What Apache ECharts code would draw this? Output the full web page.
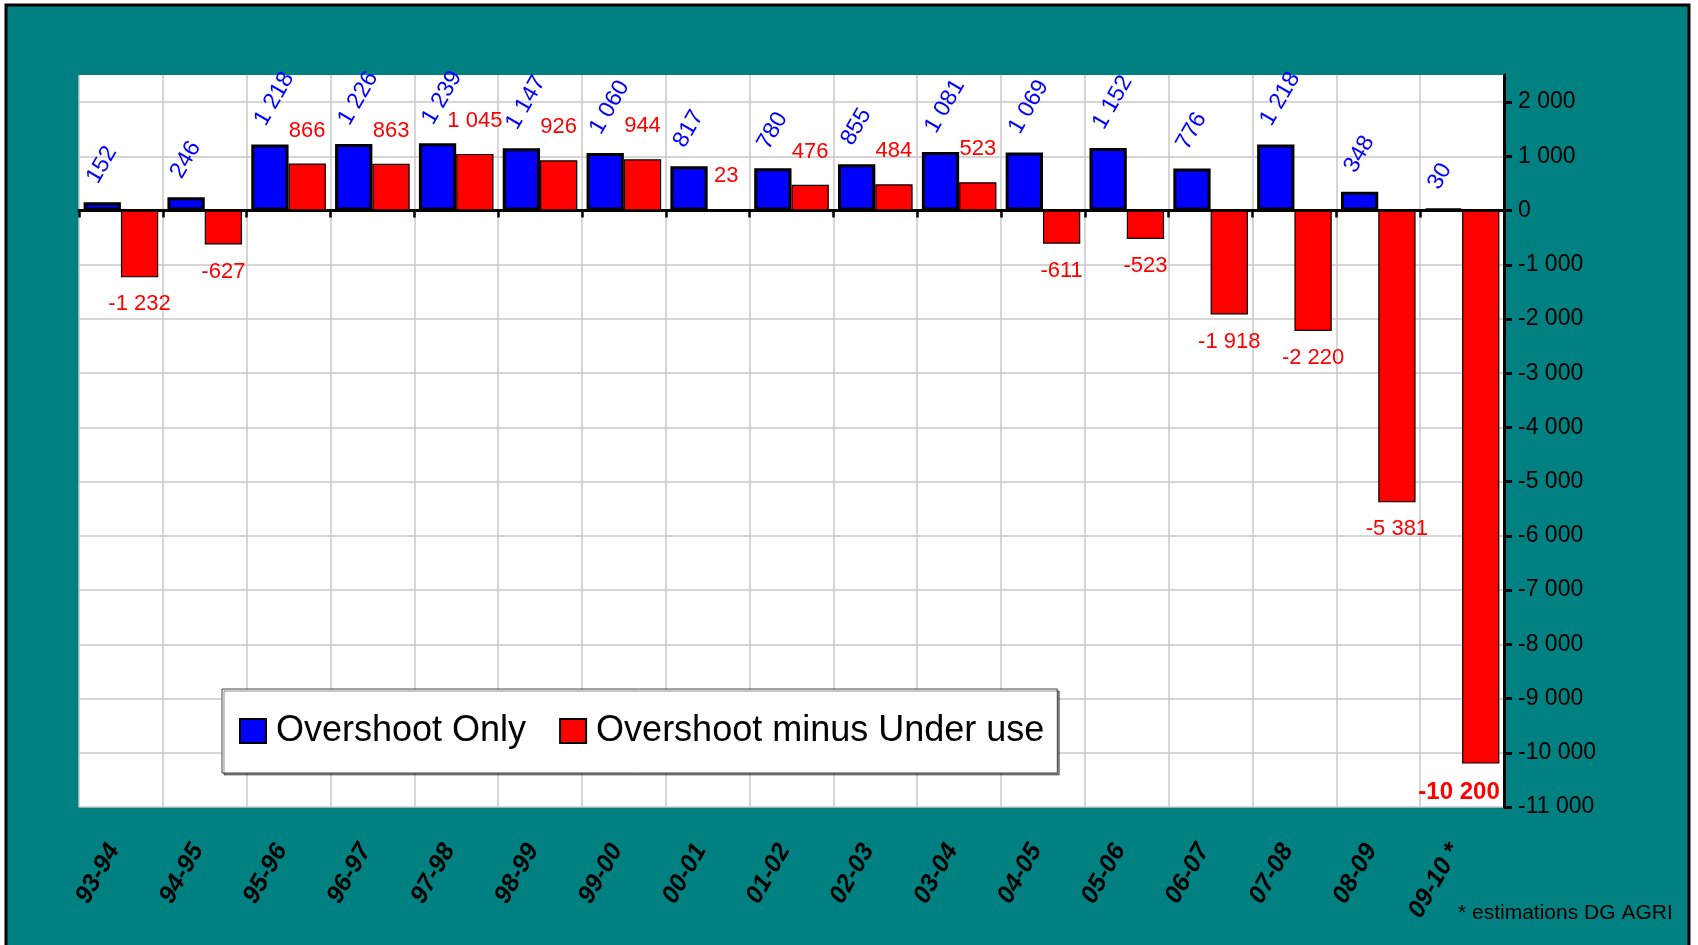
<!DOCTYPE html>
<html><head><meta charset="utf-8">
<script src="https://cdn.jsdelivr.net/npm/echarts@6/dist/echarts.min.js"></script>
<style>html,body{margin:0;padding:0;background:#fff}#c{width:1698px;height:945px}</style>
</head><body><div id="c"></div>
<script>
const categories = ['93-94','94-95','95-96','96-97','97-98','98-99','99-00','00-01','01-02','02-03','03-04','04-05','05-06','06-07','07-08','08-09','09-10 *'];
const overshootOnly = [152, 246, 1218, 1226, 1239, 1147, 1060, 817, 780, 855, 1081, 1069, 1152, 776, 1218, 348, 30];
const overshootMinusUnderUse = [-1232, -627, 866, 863, 1045, 926, 944, 23, 476, 484, 523, -611, -523, -1918, -2220, -5381, -10200];
const yTickValues = [-11000,-10000,-9000,-8000,-7000,-6000,-5000,-4000,-3000,-2000,-1000,0,1000,2000];
const seriesNames = ['Overshoot Only', 'Overshoot minus Under use'];
const footnote = '* estimations DG AGRI';

const FONT = "'Liberation Sans', Arial, sans-serif";
function fmt(v) {
  const s = Math.abs(v).toString().replace(/\B(?=(\d{3})+(?!\d))/g, ' ');
  return (v < 0 ? '-' : '') + s;
}
const lastIdx = overshootMinusUnderUse.length - 1;
const redData = overshootMinusUnderUse.map((v, i) => {
  let label;
  if (i === lastIdx) {
    label = { position: 'bottom', distance: 17, align: 'right', offset: [19, 0], fontWeight: 'bold', fontSize: 24 };
  } else if (v < 0) {
    label = { position: 'bottom', distance: 16 };
  } else {
    label = { position: 'top', distance: 22 };
  }
  return { value: v, label: label };
});

const chart = echarts.init(document.getElementById('c'));
chart.setOption({
  backgroundColor: '#ffffff',
  animation: false,
  textStyle: { fontFamily: FONT },
  graphic: [
    { type: 'rect', z: -100, shape: { x: 6, y: 5, width: 1683, height: 1000 },
      style: { fill: '#008080', stroke: '#000000', lineWidth: 3 } },
    { type: 'text', z: 100, left: 1458, top: 903,
      style: { text: footnote, fill: '#000000', font: "21px 'Liberation Sans', Arial, sans-serif" } }
  ],
  grid: { left: 79, top: 75, right: 194, bottom: 138, show: true, backgroundColor: '#ffffff', borderWidth: 0 },
  legend: {
    left: 222, top: 689,
    data: seriesNames,
    orient: 'horizontal',
    backgroundColor: '#ffffff',
    borderColor: '#444444', borderWidth: 1,
    shadowColor: 'rgba(0,0,0,0.45)', shadowOffsetX: 2, shadowOffsetY: 2, shadowBlur: 0,
    padding: [22, 13, 22, 17],
    itemGap: 33, itemWidth: 26, itemHeight: 24,
    icon: 'rect',
    itemStyle: { borderColor: '#000000', borderWidth: 2 },
    textStyle: { fontSize: 36, color: '#000000', fontFamily: FONT, lineHeight: 40, padding: [0, 0, 0, 5] }
  },
  xAxis: [
    {
      type: 'category', data: categories, position: 'bottom',
      axisLine: { show: false, onZero: false }, axisTick: { show: false },
      axisLabel: { rotate: 60, margin: 27, padding: [0, 14, 16, 0], fontSize: 25, fontWeight: 'bold', fontStyle: 'italic', color: '#000000', fontFamily: FONT, interval: 0 },
      splitLine: { show: true, lineStyle: { color: '#c8c8c8', width: 1.5 } }
    },
    {
      type: 'category', data: categories, position: 'bottom',
      axisLine: { show: true, onZero: true, lineStyle: { color: '#000000', width: 3 } },
      axisTick: { show: true, length: 7, lineStyle: { color: '#000000', width: 2.5 } },
      axisLabel: { show: false }, splitLine: { show: false }
    }
  ],
  yAxis: {
    type: 'value', position: 'right', min: -11000, max: 2500, interval: 1000,
    axisLine: { show: true, lineStyle: { color: '#000000', width: 3 } },
    axisTick: { show: true, length: 8, customValues: yTickValues, lineStyle: { color: '#000000', width: 3 } },
    axisLabel: { customValues: yTickValues, margin: 14, fontSize: 23, color: '#000000', fontFamily: FONT, formatter: v => fmt(v) },
    splitLine: { show: true, lineStyle: { color: '#c8c8c8', width: 1.5 } }
  },
  series: [
    {
      name: seriesNames[0], type: 'bar', xAxisIndex: 0, data: overshootOnly,
      barGap: '0%', barCategoryGap: '11%',
      itemStyle: { color: '#0000ff', borderColor: '#000000', borderWidth: 3 },
      label: { show: true, position: 'top', rotate: 60, align: 'left', verticalAlign: 'bottom', distance: 15,
               color: '#0000ff', fontSize: 23, fontFamily: FONT, formatter: p => fmt(p.value) }
    },
    {
      name: seriesNames[1], type: 'bar', xAxisIndex: 0, data: redData,
      barGap: '0%', barCategoryGap: '11%',
      itemStyle: { color: '#ff0000', borderColor: '#000000', borderWidth: 1.2 },
      label: { show: true, color: '#ff0000', fontSize: 22, fontFamily: FONT, formatter: p => fmt(p.value) }
    }
  ]
});
</script></body></html>
